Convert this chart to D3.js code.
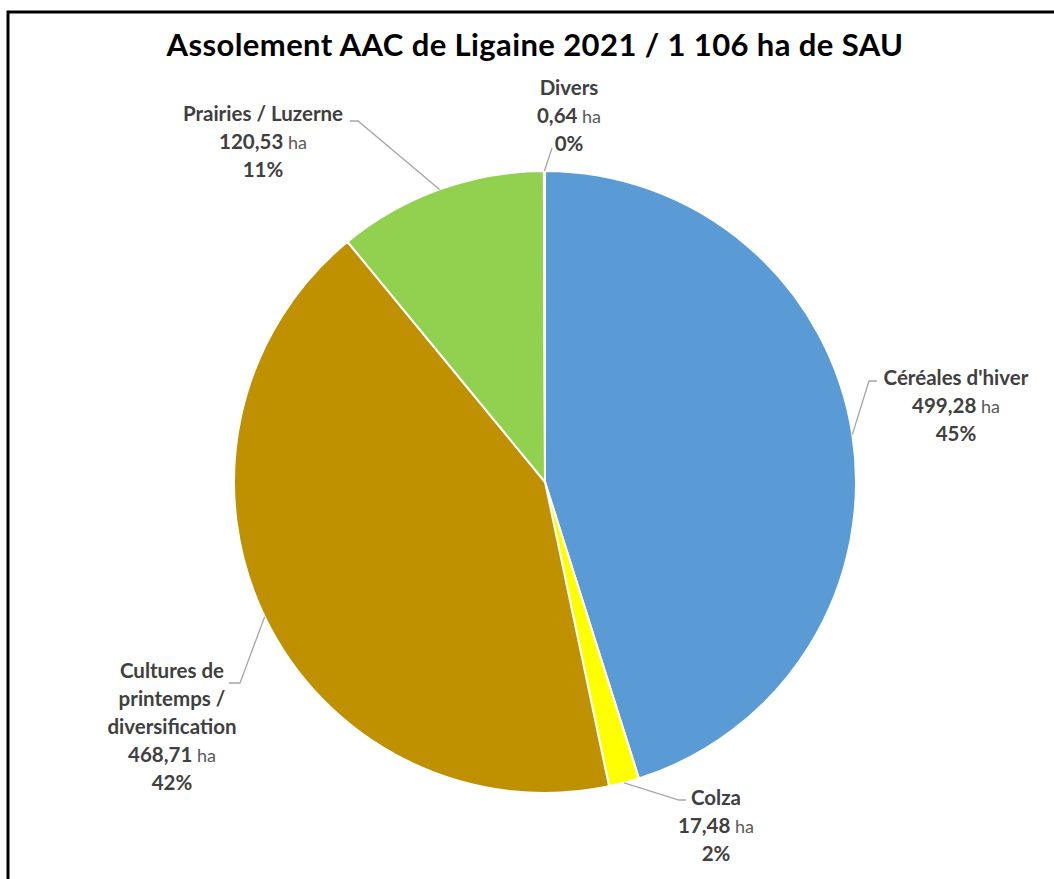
<!doctype html>
<html lang="fr">
<head>
  <meta charset="utf-8">
  <title>Assolement AAC de Ligaine 2021</title>
  <style>
    html, body { margin: 0; padding: 0; background: white; overflow: hidden; }
    svg { display: block; font-family: Lato, 'Open Sans', sans-serif; }
  </style>
</head>
<body>
  <svg id="chart" width="1054" height="879"></svg>
  <script src="https://d3js.org/d3.v7.min.js"></script>
  <script>
    // data, in the clockwise order of the slices starting at 12 o'clock
    const categories = ["Céréales d'hiver", "Colza", "Cultures de printemps / diversification", "Prairies / Luzerne", "Divers"];
    const hectares = [499.28, 17.48, 468.71, 120.53, 0.64];
    const valueLabels = ["499,28", "17,48", "468,71", "120,53", "0,64"];
    const percentLabels = ["45%", "2%", "42%", "11%", "0%"];
    const nameLines = [["Céréales d'hiver"], ["Colza"], ["Cultures de", "printemps /", "diversification"], ["Prairies / Luzerne"], ["Divers"]];
    const colors = ["#5B9BD5", "#FFFF00", "#BF9000", "#92D050", "#A5A5A5"];

    // label placement (layout only): text centre, first baseline, elbow points of the leader
    const labelLayout = [
      { x: 956, y: 385, elbow: [[877, 381], [869, 381]] },
      { x: 716, y: 805, elbow: [[686, 800], [679, 800]] },
      { x: 172, y: 678, elbow: [[229, 683], [240, 683]] },
      { x: 263, y: 121, elbow: [[350, 121], [358, 121]] },
      { x: 569, y: 95,  elbow: [[552, 148]] }
    ];

    const W = 1054, H = 879;
    const cx = 545, cy = 482, R = 311;
    const lineH = 28;

    const svg = d3.select("#chart");

    // frame
    svg.append("rect")
      .attr("x", 8).attr("y", 12)
      .attr("width", W + 20).attr("height", H + 20)
      .attr("fill", "white")
      .attr("stroke", "#000").attr("stroke-width", 3);

    svg.append("text")
      .attr("x", 535).attr("y", 56)
      .attr("text-anchor", "middle")
      .attr("font-size", 31).attr("font-weight", 700)
      .attr("letter-spacing", 0.4)
      .attr("fill", "#000")
      .text("Assolement AAC de Ligaine 2021 / 1 106 ha de SAU");

    const pie = d3.pie().sort(null).value(d => d)(hectares);
    const arc = d3.arc().innerRadius(0).outerRadius(R);
    const g = svg.append("g").attr("transform", `translate(${cx},${cy})`);

    g.selectAll("path")
      .data(pie)
      .join("path")
      .attr("d", arc)
      .attr("fill", (d, i) => colors[i])
      .attr("stroke", "white")
      .attr("stroke-width", 2)
      .attr("stroke-linejoin", "round");

    // leader lines from the slice's outer edge to the label
    const edge = d => {
      const a = (d.startAngle + d.endAngle) / 2;
      return [cx + R * Math.sin(a), cy - R * Math.cos(a)];
    };

    svg.append("g")
      .selectAll("polyline")
      .data(pie)
      .join("polyline")
      .attr("points", (d, i) => [edge(d), ...labelLayout[i].elbow.slice().reverse()].map(p => p.join(",")).join(" "))
      .attr("fill", "none")
      .attr("stroke", "#A6A6A6")
      .attr("stroke-width", 1.3);

    // labels
    const labels = svg.append("g")
      .attr("font-size", 20.5)
      .attr("fill", "#404040")
      .attr("text-anchor", "middle");

    categories.forEach((c, i) => {
      const L = labelLayout[i];
      const t = labels.append("text").attr("x", L.x).attr("y", L.y);
      nameLines[i].forEach((ln, j) => {
        t.append("tspan").attr("x", L.x).attr("dy", j === 0 ? 0 : lineH)
          .attr("font-weight", 700).text(ln);
      });
      t.append("tspan").attr("x", L.x).attr("dy", lineH)
        .attr("font-weight", 700).text(valueLabels[i]);
      t.append("tspan").attr("font-weight", 400).attr("font-size", 18)
        .attr("fill", "#595959").text(" ha");
      t.append("tspan").attr("x", L.x).attr("dy", lineH)
        .attr("font-weight", 700).text(percentLabels[i]);
    });
  </script>
</body>
</html>
